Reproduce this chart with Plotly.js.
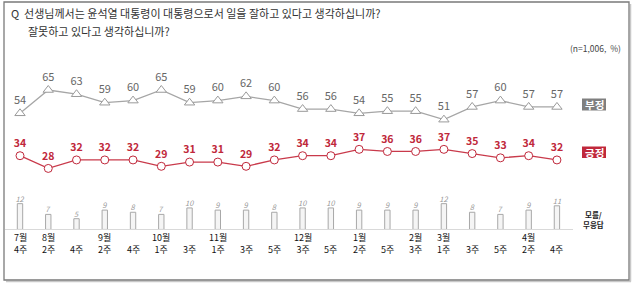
<!DOCTYPE html>
<html><head><meta charset="utf-8">
<script src="https://cdn.plot.ly/plotly-3.0.1.min.js"></script>
<style>html,body{margin:0;padding:0;background:#fff}#chart{width:637px;height:283px}</style>
</head><body><div id="chart"></div>
<script>
const months = ['7월','8월','','9월','','10월','','11월','','','12월','','1월','','2월','3월','','','4월',''];
const weeks  = ['4주','2주','4주','2주','4주','1주','3주','1주','3주','5주','3주','5주','2주','5주','3주','1주','3주','5주','2주','4주'];
const negative = [54,65,63,59,60,65,59,60,62,60,56,56,54,55,55,51,57,60,57,57];
const positive = [34,28,32,32,32,29,31,31,29,32,34,34,37,36,36,37,35,33,34,32];
const dontKnow = [12,7,5,9,8,7,10,9,9,8,10,10,9,9,9,12,8,7,9,11];
const idx = negative.map((_, i) => i);

const W = 637, H = 283;
const px = x => x / W, py = y => 1 - y / H;
const FONT = '"Noto Sans CJK KR", "Noto Sans", sans-serif';

const traces = [
  {type:'bar', x: idx, y: dontKnow, yaxis:'y2', width:0.19,
   marker:{color:'#f5f5f5', line:{color:'#a8a8a8', width:1}},
   text: dontKnow.map(String), textposition:'outside', constraintext:'none', cliponaxis:false,
   textfont:{family:FONT, size:7.5, color:'#9a9a9a', style:'italic'}, hoverinfo:'skip'},
  {type:'scatter', mode:'lines+markers+text', x: idx, y: negative,
   line:{color:'#a6a6a6', width:1.3},
   marker:{symbol:'triangle-up', size:9, color:'#fff', line:{color:'#9a9a9a', width:1}},
   text: negative.map(String), textposition:'top center', cliponaxis:false,
   textfont:{family:FONT, size:11, color:'#666'}},
  {type:'scatter', mode:'lines+markers+text', x: idx, y: positive,
   line:{color:'#c93a4b', width:1.3},
   marker:{symbol:'circle', size:8, color:'#fff', line:{color:'#c0283b', width:1}},
   text: positive.map(String), textposition:'top center', cliponaxis:false,
   textfont:{family:FONT, size:10.5, color:'#c0283b', weight:'bold'}}
];

const annotations = [
  {text:'Q  선생님께서는 윤석열 대통령이 대통령으로서 일을 잘하고 있다고 생각하십니까?', x:px(9), y:py(13), xref:'paper', yref:'paper', xanchor:'left', yanchor:'middle', showarrow:false, font:{family:FONT, size:11, color:'#333'}},
  {text:'잘못하고 있다고 생각하십니까?', x:px(26), y:py(31), xref:'paper', yref:'paper', xanchor:'left', yanchor:'middle', showarrow:false, font:{family:FONT, size:11, color:'#333'}},
  {text:'(n=1,006,  %)', x:px(623), y:py(48), xref:'paper', yref:'paper', xanchor:'right', yanchor:'middle', showarrow:false, font:{family:FONT, size:8.5, color:'#444'}},
  {text:'<b>부정</b>', x:px(594), y:py(104.5), xref:'paper', yref:'paper', xanchor:'center', yanchor:'middle', showarrow:false, font:{family:FONT, size:10.5, color:'#fff'}},
  {text:'<b>긍정</b>', x:px(594), y:py(152.2), xref:'paper', yref:'paper', xanchor:'center', yanchor:'middle', showarrow:false, font:{family:FONT, size:10.5, color:'#fff'}},
  {text:'<b>모름/<br>무응답</b>', x:px(593), y:py(219.5), xref:'paper', yref:'paper', xanchor:'center', yanchor:'middle', showarrow:false, font:{family:FONT, size:7.5, color:'#222'}}
];
idx.forEach(i => {
  const two = !!months[i];
  annotations.push({text: two ? months[i] + '<br>' + weeks[i] : weeks[i], x:i, y: two ? py(243.5) : py(249), xref:'x', yref:'paper', xanchor:'center', yanchor:'middle', showarrow:false, font:{family:FONT, size:9, color:'#111'}});
});

const shapes = [
  {type:'line', xref:'paper', yref:'paper', x0:px(5), x1:px(573), y0:py(229.5), y1:py(229.5), line:{color:'#d9d9d9', width:1}},
  {type:'rect', xref:'paper', yref:'paper', x0:px(582), x1:px(606), y0:py(98.5), y1:py(110.5), fillcolor:'#7f7f7f', line:{width:0}, layer:'below'},
  {type:'rect', xref:'paper', yref:'paper', x0:px(582), x1:px(606), y0:py(146.5), y1:py(158), fillcolor:'#c0283b', line:{width:0}, layer:'below'},
  {type:'line', xref:'paper', yref:'paper', x0:px(6), x1:px(631), y0:py(281.5), y1:py(281.5), line:{color:'#c8c8c8', width:1.5}},
  {type:'line', xref:'paper', yref:'paper', x0:px(630.5), x1:px(630.5), y0:py(4), y1:py(281.5), line:{color:'#c8c8c8', width:1.5}},
  {type:'rect', xref:'paper', yref:'paper', x0:px(4), x1:px(629), y0:py(2), y1:py(280), line:{color:'#7a7a7a', width:1.3}}
];

const layout = {
  width: W, height: H, margin:{l:0, r:0, t:0, b:0},
  paper_bgcolor:'#fff', plot_bgcolor:'rgba(0,0,0,0)', showlegend:false,
  xaxis:{range:[-0.7077, 21.833], visible:false, fixedrange:true},
  yaxis:{range:[-26.04, 107.45], visible:false, fixedrange:true},
  yaxis2:{range:[-24.9, 106.7], visible:false, overlaying:'y', fixedrange:true},
  annotations, shapes, bargap:0
};
Plotly.newPlot('chart', traces, layout, {staticPlot:true, displayModeBar:false});
</script></body></html>
